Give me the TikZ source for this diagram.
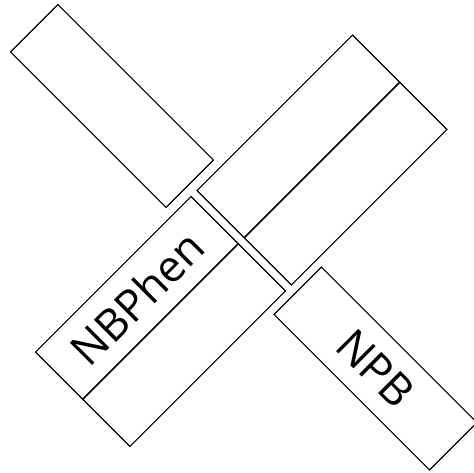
\documentclass[tikz,border=0pt]{standalone}
\usepackage{fontspec}
\setmainfont{Open Sans}
\begin{document}
\begin{tikzpicture}[x=1pt,y=1pt,
  box/.style={draw=black, line width=1.2pt, minimum width=220pt, minimum height=67pt,
    inner sep=0pt, font=\fontsize{44}{52}\selectfont}]
\useasboundingbox (0,0) rectangle (474,472);
\node[box, rotate=-45] (A)  at (112,366)   {};
\node[box, rotate=45]  (B1) at (298.5,335.5) {};
\node[box, rotate=45]  (B2) at (345.5,288.5) {};
\node[box, rotate=45]  (C1) at (137,174)   {NBPhen};
\node[box, rotate=45]  (C2) at (184,127)   {};
\node[box, rotate=-45] (D)  at (375.5,103.5) {NPB};
\end{tikzpicture}
\end{document}
